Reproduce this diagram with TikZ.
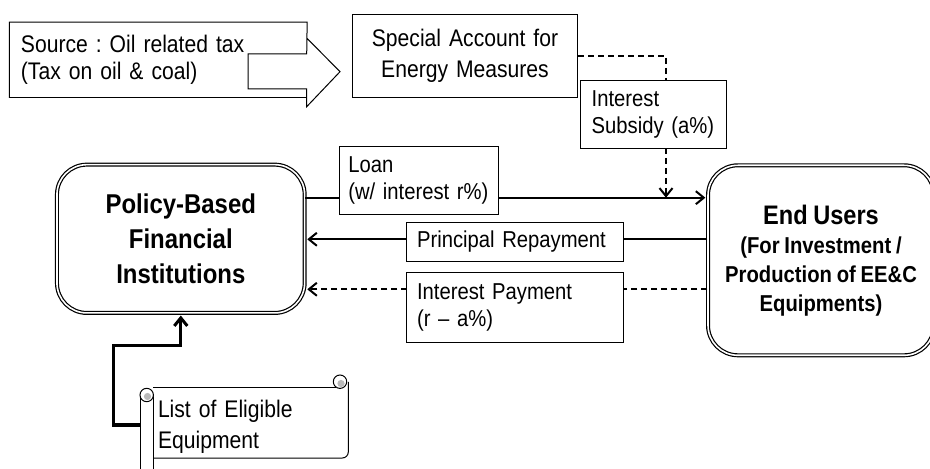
\documentclass[tikz,border=0pt]{standalone}
\usepackage{fontspec}
\setmainfont{Liberation Sans}[FakeStretch=0.88, WordSpace=0.85]
\frenchspacing
\usetikzlibrary{arrows.meta}

\begin{document}
\begin{tikzpicture}[x=0.5pt, y=-0.5pt,
        txtbox/.style={draw, fill=white, line width=0.5pt, align=left,
            inner xsep=5pt, font=\fontsize{11.5}{13.5}\selectfont},
        bigbox/.style={draw, double, line width=0.6pt, double distance=0.8pt,
            rounded corners=15pt, align=center},
        flow/.style={line width=1pt},
        dashes/.style={dash pattern=on 3pt off 2pt},
        tip/.style={-{Straight Barb[length=4pt,width=6.5pt]}}]
            \clip (0,0) rectangle (930,469);

            \node[bigbox, minimum width=123.85pt, minimum height=74.15pt,
                font=\bfseries\fontsize{13.6}{17.5}\selectfont] (pbfi) at (180.8,238.8)
                {Policy-Based\\Financial\\Institutions};
            \node[bigbox, minimum width=113pt, minimum height=95pt,
                font=\bfseries\fontsize{11.5}{14.5}\selectfont] (users) at (821,260.3)
                {{\fontsize{13.4}{15}\selectfont End Users}\\(For Investment /\\Production of EE\&C\\Equipments)};
            \node[txtbox, align=center, minimum width=112.7pt, minimum height=41.65pt,
                text width=102.7pt, font=\fontsize{12}{15.5}\selectfont] (acct) at (465,55.7)
                {Special Account for\\Energy Measures};
            \node[txtbox, draw=none, fill=none, inner xsep=5.5pt, minimum width=148.35pt,
                minimum height=37.3pt, text width=137.35pt, font=\fontsize{12}{13.5}\selectfont]
                (src) at (158.3,60) {Source : Oil related tax\\(Tax on oil \& coal)};

            \draw[line width=0.5pt] (src.south west) -- (src.north west) -- (src.north east)
                -- (306.7,54) -- (248,54) -- (248,89) -- (306.7,89) -- (306.7,106.7)
                -- (340,71.7) -- (306.7,38);
            \draw[line width=0.5pt] (src.south west) -- (src.south east);

            \coordinate (drop) at (666,197.7);
            \draw[flow, dashes, tip] (acct.east) -| (drop);
            \draw[flow, tip, shorten >=1pt] (pbfi.east |- 0,197.7) -- (users.west |- 0,197.7);
            \draw[flow, tip, shorten >=1pt] (users.west |- 0,239.3) -- (pbfi.east |- 0,239.3);
            \draw[flow, dashes, tip, shorten >=1pt] (users.west |- 0,289.3) -- (pbfi.east |- 0,289.3);

            \node[txtbox, minimum width=79.5pt, minimum height=34.15pt, text width=70.5pt,
                inner xsep=4.5pt] (loan) at (418.8,180.8) {Loan\\(w/ interest r\%)};
            \node[txtbox, minimum width=108.65pt, minimum height=19.7pt, text width=97.65pt,
                inner xsep=5.5pt] (repay) at (514.7,242) {Principal Repayment};
            \node[txtbox, minimum width=108.65pt, minimum height=34.85pt, text width=97.65pt,
                inner xsep=5.5pt] (intpay) at (514.7,307.2) {Interest Payment\\(r -- a\%)};
            \node[txtbox, minimum width=72.15pt, minimum height=33.8pt, text width=62.15pt,
                inner xsep=5.5pt] (subsidy) at (653.8,114.5) {Interest\\Subsidy (a\%)};

            \node[txtbox, draw=none, fill=none, inner xsep=9pt, minimum width=104pt,
                minimum height=35pt, text width=86pt, font=\fontsize{12}{15.5}\selectfont]
                (list) at (244,427) {List of Eligible\\Equipment};
            \draw[line width=1.5pt, tip, shorten >=1pt] (list.west |- 0,425) -- (113,425)
                -- (113,346) -| (pbfi.south);

            \draw[line width=0.5pt] (140,480) -- (140,395) (153.3,480) -- (153.3,395);
            \draw[line width=0.5pt] (153.3,388) -- (335,388) -- (335,384);
            \draw[line width=0.5pt, rounded corners=3pt] (348.3,382) -- (348.3,458) -- (153.3,458);
            \filldraw[line width=0.5pt, fill=white] (340,381.7) circle (3.35pt)
                (146.7,395) circle (3.35pt);
            \fill[gray!55] (341,383.5) circle (1.8pt) (147.5,396.5) circle (1.8pt);
        \end{tikzpicture}
\end{document}
